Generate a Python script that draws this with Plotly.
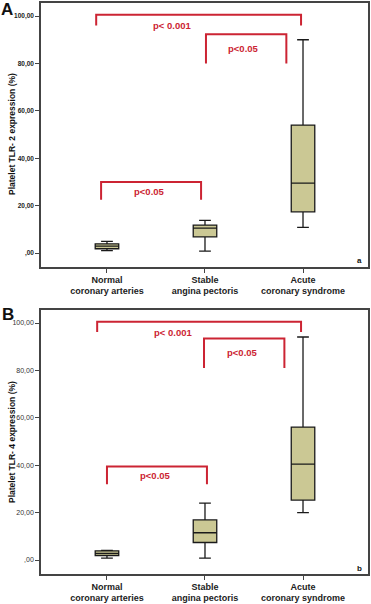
import plotly.graph_objects as go

categories = ["Normal<br>coronary arteries", "Stable<br>angina pectoris", "Acute<br>coronary syndrome"]

# Panel A: Platelet TLR-2 expression (%)
tlr2_low = [1.0, 0.8, 10.8]
tlr2_q1 = [1.8, 6.8, 17.4]
tlr2_med = [2.9, 10.5, 29.5]
tlr2_q3 = [3.9, 11.8, 54.0]
tlr2_high = [4.9, 13.8, 90.0]

# Panel B: Platelet TLR-4 expression (%)
tlr4_low = [0.8, 0.8, 20.0]
tlr4_q1 = [1.9, 7.4, 25.3]
tlr4_med = [2.8, 11.5, 40.5]
tlr4_q3 = [3.9, 16.9, 56.1]
tlr4_high = [4.1, 24.0, 94.1]

tick_vals = [0, 20, 40, 60, 80, 100]
tick_text = [",00", "20,00", "40,00", "60,00", "80,00", "100,00"]

# Significance brackets: (x_left, x_right, y_top, y_drop, label, text_x, text_y)
brackets_a = [
    (-0.11, 1.98, 100.5, 96.0, "p< 0.001", 0.66, 96.0),
    (1.01, 1.83, 92.3, 80.0, "p<0.05", 1.39, 86.2),
    (-0.06, 0.96, 30.0, 22.5, "p<0.05", 0.43, 26.0),
]
brackets_b = [
    (-0.10, 1.98, 100.5, 96.2, "p< 0.001", 0.67, 96.2),
    (0.99, 1.81, 93.5, 81.0, "p<0.05", 1.38, 87.5),
    (0.00, 1.02, 39.5, 32.0, "p<0.05", 0.49, 35.5),
]

FONT = "Liberation Sans, Arial, sans-serif"
RED = "#cc2433"
FILL = "#cbc894"

fig = go.Figure()

panels = [
    ("x", "y", tlr2_low, tlr2_q1, tlr2_med, tlr2_q3, tlr2_high, brackets_a),
    ("x2", "y2", tlr4_low, tlr4_q1, tlr4_med, tlr4_q3, tlr4_high, brackets_b),
]

for xa, ya, lo, q1, md, q3, hi, brs in panels:
    for i in range(len(categories)):
        fig.add_trace(go.Box(
            x=[i], q1=[q1[i]], median=[md[i]], q3=[q3[i]],
            lowerfence=[lo[i]], upperfence=[hi[i]],
            width=0.24, whiskerwidth=0.5,
            fillcolor=FILL, line=dict(color="#1a1a1a", width=1.3),
            boxpoints=False, showlegend=False, hoverinfo="skip",
            xaxis=xa, yaxis=ya,
        ))
    for (xl, xr, yt, yd, lab, tx, ty) in brs:
        fig.add_shape(type="path",
                      path=f"M {xl},{yd} L {xl},{yt} L {xr},{yt} L {xr},{yd}",
                      xref=xa, yref=ya, line=dict(color=RED, width=2))
        fig.add_annotation(x=tx, y=ty, xref=xa, yref=ya, text=f"<b>{lab}</b>",
                           showarrow=False, font=dict(family=FONT, size=9.5, color=RED))

W, H = 371, 604
xdom = [41 / W, 368 / W]
ydomA = [1 - 267 / H, 1 - 3 / H]
ydomB = [1 - 574 / H, 1 - 310 / H]

xcommon = dict(range=[-0.673, 2.663], tickvals=[0, 1, 2], ticktext=[f"<b>{c}</b>" for c in categories],
               showline=True, mirror=True, linecolor="#444", linewidth=1.5,
               ticks="outside", ticklen=4, tickcolor="#444", tickwidth=1,
               ticklabelstandoff=-1,
               tickfont=dict(family=FONT, size=9, color="#222"),
               showgrid=False, zeroline=False, automargin=False, fixedrange=True)
ycommon = dict(range=[-5.9, 105.5], tickvals=tick_vals,
               showline=True, mirror=True, linecolor="#444", linewidth=1.5,
               ticks="outside", ticklen=4, tickcolor="#444", tickwidth=1,
               showgrid=False, zeroline=False, automargin=False, fixedrange=True)

fig.update_layout(
    width=W, height=H,
    margin=dict(l=0, r=0, t=0, b=0),
    paper_bgcolor="white", plot_bgcolor="white",
    font=dict(family=FONT),
    xaxis=dict(domain=xdom, anchor="y", **xcommon),
    yaxis=dict(domain=ydomA, anchor="x", ticktext=[f"<b>{t}</b>" for t in tick_text],
               tickfont=dict(family=FONT, size=6.5, color="#222"), **ycommon),
    xaxis2=dict(domain=xdom, anchor="y2", **xcommon),
    yaxis2=dict(domain=ydomB, anchor="x2", ticktext=tick_text,
                tickfont=dict(family=FONT, size=7, color="#333"), **ycommon),
)

# Panel letters, y-axis titles and corner labels
extras = [
    (7, 10, "<b>A</b>", 17, 0),
    (8, 314, "<b>B</b>", 17, 0),
    (359, 261, "<b>a</b>", 8, 0),
    (359, 568, "<b>b</b>", 8, 0),
    (12, 134, "<b>Platelet TLR- 2 expression (%)</b>", 8.5, -90),
    (12, 442, "<b>Platelet TLR- 4 expression (%)</b>", 8.5, -90),
]
for px, py, txt, sz, ang in extras:
    fig.add_annotation(x=px / W, y=1 - py / H, xref="paper", yref="paper",
                       text=txt, showarrow=False, textangle=ang,
                       xanchor="center", yanchor="middle",
                       font=dict(family=FONT, size=sz, color="#111"))

fig.write_html("out.html", config={"displayModeBar": False},
               post_script="document.body.style.margin='0';document.body.style.overflow='hidden';")
